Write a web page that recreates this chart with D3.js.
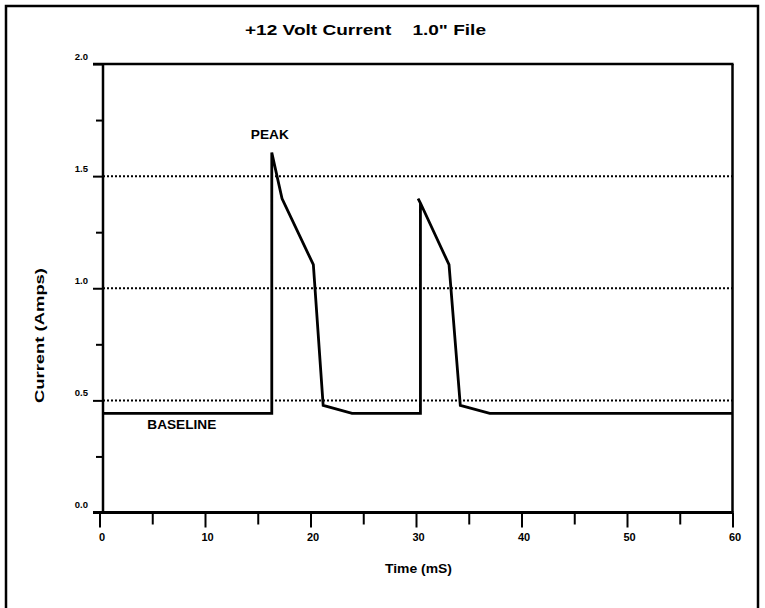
<!DOCTYPE html>
<html>
<head>
<meta charset="utf-8">
<script src="https://cdn.jsdelivr.net/npm/d3@7"></script>
<style>
  html, body { margin: 0; padding: 0; background: #fff; }
  svg { display: block; }
  text { font-family: "Liberation Sans", Arial, sans-serif; font-weight: bold; fill: #000; }
</style>
</head>
<body>
<script>
// ---- data ----
const timeMs   = [0, 16.33, 16.33, 17.3, 20.27, 21.2, 23.94, 30.42, 30.42, 30.2, 30.42, 33.13, 34.2, 36.99, 60];
const currentA = [0.442, 0.442, 1.605, 1.40, 1.105, 0.478, 0.442, 0.442, 1.38, 1.40, 1.38, 1.105, 0.478, 0.442, 0.442];
const xMajorTicks = [0, 10, 20, 30, 40, 50, 60];
const xMinorTicks = [5, 15, 25, 35, 45, 55];
const yMajorTicks = [0, 0.5, 1.0, 1.5, 2.0];
const yMinorTicks = [0.25, 0.75, 1.25, 1.75];
const gridValues  = [0.5, 1.0, 1.5];
const titleText = "+12 Volt Current    1.0\" File";
const xTitle = "Time (mS)";
const yTitle = "Current (Amps)";
const annotations = [
  { label: "PEAK", t: 16.33, v: 1.605 },
  { label: "BASELINE", t: 7.85, v: 0.442 }
];

// ---- layout ----
const W = 765, H = 608;
const svg = d3.select("body").append("svg").attr("width", W).attr("height", H);

const x = d3.scaleLinear().domain([0, 60]).range([99.5, 732.5]);
const y = d3.scaleLinear().domain([0, 2]).range([512.5, 64]);
const frameLeft = x(0) + 3.5;

// outer border
svg.append("rect")
  .attr("x", 6).attr("y", 6).attr("width", 752).attr("height", 640)
  .attr("fill", "none").attr("stroke", "#000").attr("stroke-width", 2.5);

// title
svg.append("text")
  .attr("x", 245).attr("y", 35)
  .attr("font-size", 15)
  .attr("textLength", 241).attr("lengthAdjust", "spacingAndGlyphs")
  .style("white-space", "pre")
  .attr("xml:space", "preserve")
  .text(titleText);

// gridlines (dotted)
svg.append("g").selectAll("line").data(gridValues).join("line")
  .attr("x1", frameLeft).attr("x2", x(60))
  .attr("y1", d => y(d)).attr("y2", d => y(d))
  .attr("stroke", "#000").attr("stroke-width", 2)
  .attr("stroke-dasharray", "2,2");

// frame: top and right
svg.append("line")
  .attr("x1", frameLeft - 10).attr("x2", x(60) + 1)
  .attr("y1", y(2)).attr("y2", y(2))
  .attr("stroke", "#000").attr("stroke-width", 2.5);
svg.append("line")
  .attr("x1", x(60)).attr("x2", x(60))
  .attr("y1", y(2)).attr("y2", y(0))
  .attr("stroke", "#000").attr("stroke-width", 2.5);

// x axis
const xAxisMajor = d3.axisBottom(x).tickValues(xMajorTicks).tickSize(15).tickFormat(d3.format("d"));
const gx = svg.append("g").attr("transform", `translate(0,${y(0)})`).call(xAxisMajor);
gx.select(".domain").remove();
gx.selectAll(".tick line").attr("stroke", "#000").attr("stroke-width", 2);
gx.selectAll(".tick text").attr("y", 28.5).attr("dy", null).attr("font-size", 11)
  .attr("font-family", null).attr("dx", 2);
const gxm = svg.append("g").attr("transform", `translate(0,${y(0)})`)
  .call(d3.axisBottom(x).tickValues(xMinorTicks).tickSize(12).tickFormat(""));
gxm.select(".domain").remove();
gxm.selectAll(".tick line").attr("stroke", "#000").attr("stroke-width", 2);

// y axis
const gy = svg.append("g").attr("transform", `translate(${frameLeft},0)`)
  .call(d3.axisLeft(y).tickValues(yMajorTicks).tickSize(10).tickPadding(5).tickFormat(d3.format(".1f")));
gy.select(".domain").remove();
gy.selectAll(".tick line").attr("stroke", "#000").attr("stroke-width", 2);
gy.selectAll(".tick text").attr("y", -5).attr("dy", null).attr("font-size", 9.5).attr("font-family", null);
const gym = svg.append("g").attr("transform", `translate(${frameLeft},0)`)
  .call(d3.axisLeft(y).tickValues(yMinorTicks).tickSize(7).tickFormat(""));
gym.select(".domain").remove();
gym.selectAll(".tick line").attr("stroke", "#000").attr("stroke-width", 2);

// left frame line and x axis line
svg.append("line")
  .attr("x1", frameLeft).attr("x2", frameLeft)
  .attr("y1", y(2) - 1).attr("y2", y(0))
  .attr("stroke", "#000").attr("stroke-width", 2.5);
svg.append("line")
  .attr("x1", frameLeft - 10).attr("x2", x(60) + 1)
  .attr("y1", y(0)).attr("y2", y(0))
  .attr("stroke", "#000").attr("stroke-width", 3);

// trace
svg.append("clipPath").attr("id", "plotclip").append("rect")
  .attr("x", frameLeft).attr("y", 0).attr("width", x(60) - frameLeft).attr("height", H);
const pts = timeMs.map((t, i) => [t, currentA[i]]);
svg.append("path")
  .datum(pts)
  .attr("clip-path", "url(#plotclip)")
  .attr("d", d3.line().x(d => x(d[0])).y(d => y(d[1])))
  .attr("fill", "none").attr("stroke", "#000").attr("stroke-width", 2.8)
  .attr("stroke-linejoin", "miter");

// annotations
svg.append("text")
  .attr("x", x(annotations[0].t) - 21).attr("y", y(annotations[0].v) - 14)
  .attr("font-size", 12)
  .attr("textLength", 38).attr("lengthAdjust", "spacingAndGlyphs")
  .text(annotations[0].label);
svg.append("text")
  .attr("x", x(annotations[1].t) - 35).attr("y", y(annotations[1].v) + 16)
  .attr("font-size", 12)
  .attr("textLength", 69).attr("lengthAdjust", "spacingAndGlyphs")
  .text(annotations[1].label);

// axis titles
svg.append("text")
  .attr("x", 385).attr("y", 573)
  .attr("font-size", 13)
  .attr("textLength", 67).attr("lengthAdjust", "spacingAndGlyphs")
  .text(xTitle);
svg.append("text")
  .attr("transform", "translate(44,403) rotate(-90)")
  .attr("font-size", 13)
  .attr("textLength", 135).attr("lengthAdjust", "spacingAndGlyphs")
  .text(yTitle);
</script>
</body>
</html>
